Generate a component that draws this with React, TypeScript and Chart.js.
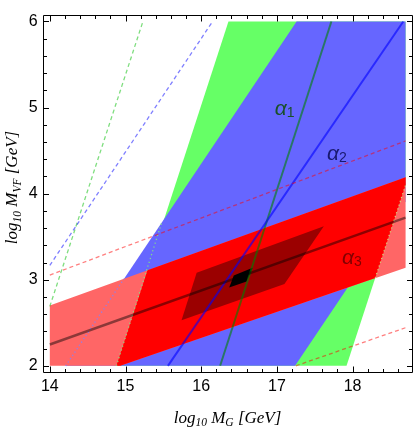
import React, { useEffect, useRef } from 'react';
import { Chart, registerables } from 'chart.js';

Chart.register(...registerables);

// axis ranges (Mathematica-style 2% padding around 14..18.7 / 2..6)
const X_MIN = 13.906;
const X_MAX = 18.794;
const Y_MIN = 1.92;
const Y_MAX = 6.08;

const xTickValues = [14, 15, 16, 17, 18];
const yTickValues = [2, 3, 4, 5, 6];

// regions (polygon vertices)
const greenX = [14.88, 17.92, 18.7, 18.7, 16.36];
const greenY = [2, 2, 4.1, 6, 6];
const blueX = [14.21, 17.24, 18.7, 18.7, 17.26];
const blueY = [2, 2, 3.91, 6, 6];
const pinkX = [14.0, 14.93, 18.7, 18.7, 14.0];
const pinkY = [2, 2, 3.14, 4.19, 2.7];
const redX = [14.88, 15.29, 18.7, 18.7, 18.3, 14.93];
const redY = [2, 3.11, 4.19, 4.1, 3.02, 2];
const darkRedX = [15.74, 15.94, 17.62, 17.1];
const darkRedY = [2.53, 3.08, 3.62, 2.95];
const blackX = [16.37, 16.43, 16.68, 16.6];
const blackY = [2.91, 3.05, 3.14, 2.98];

// central lines
const alpha1X = [16.25, 17.72];
const alpha1Y = [2, 6];
const alpha2X = [15.56, 18.67];
const alpha2Y = [2, 6];
const alpha3X = [14, 18.7];
const alpha3Y = [2.248, 3.722];

// dashed lines
const dashGreenX = [14, 15.23];
const dashGreenY = [2.69, 6];
const dashBlueX = [14, 16.15];
const dashBlueY = [3.167, 6];
const dashRed1X = [14, 18.7];
const dashRed1Y = [3.054, 4.612];
const dashRed2X = [17.25, 18.7];
const dashRed2Y = [2, 2.443];

// dotted region edges
const dotGreen1X = [14.88, 15.48];
const dotGreen1Y = [2, 3.67];
const dotBlueX = [14.21, 14.98];
const dotBlueY = [2, 3.01];
const dotGreen2X = [18.3, 18.7];
const dotGreen2Y = [3.02, 4.1];

// labels
const labelText = ['1', '2', '3'];
const labelX = [17.05, 17.74, 17.94];
const labelY = [4.98, 4.46, 3.25];
const labelColor = ['rgb(25,80,40)', 'rgb(25,25,110)', 'rgb(130,0,0)'];

const pts = (xs: number[], ys: number[]) => xs.map((x, i) => ({ x, y: ys[i] }));
const closed = (xs: number[], ys: number[]) => {
  const p = pts(xs, ys);
  return [...p, p[0]];
};

type Run = { t: string; s: number; dy?: number };

function drawRuns(ctx: CanvasRenderingContext2D, runs: Run[], cx: number, baseY: number) {
  const fam = '"Liberation Serif", "DejaVu Serif", serif';
  let total = 0;
  for (const r of runs) {
    ctx.font = `italic ${r.s}px ${fam}`;
    total += ctx.measureText(r.t).width;
  }
  let x = cx - total / 2;
  ctx.textAlign = 'left';
  ctx.textBaseline = 'alphabetic';
  for (const r of runs) {
    ctx.font = `italic ${r.s}px ${fam}`;
    ctx.fillText(r.t, x, baseY + (r.dy || 0));
    x += ctx.measureText(r.t).width;
  }
}

const framePlugin = {
  id: 'framePlugin',
  afterDatasetsDraw(chart: any) {
    const ctx: CanvasRenderingContext2D = chart.ctx;
    const xs = chart.scales.x;
    const ys = chart.scales.y;
    ctx.save();
    for (let i = 0; i < labelText.length; i++) {
      const px = xs.getPixelForValue(labelX[i]);
      const py = ys.getPixelForValue(labelY[i]);
      ctx.fillStyle = labelColor[i];
      ctx.textBaseline = 'alphabetic';
      ctx.textAlign = 'center';
      ctx.font = 'italic 21px "Liberation Sans", Arial, sans-serif';
      const aw = ctx.measureText('α').width;
      ctx.fillText('α', px, py + 5.5);
      ctx.textAlign = 'left';
      ctx.font = '14px "Liberation Sans", Arial, sans-serif';
      ctx.fillText(labelText[i], px + aw / 2, py + 8);
    }
    ctx.restore();
  },
  afterDraw(chart: any) {
    const ctx: CanvasRenderingContext2D = chart.ctx;
    const a = chart.chartArea;
    const xs = chart.scales.x;
    const ys = chart.scales.y;
    ctx.save();
    ctx.strokeStyle = '#000';
    ctx.lineWidth = 1;
    const L = Math.round(a.left) + 0.5;
    const R = Math.round(a.right) - 0.5;
    const T = Math.round(a.top) + 0.5;
    const B = Math.round(a.bottom) - 0.5;
    ctx.beginPath();
    ctx.rect(L, T, R - L, B - T);
    ctx.stroke();
    ctx.beginPath();
    for (let v = 14; v <= 18.75; v += 0.2) {
      const vv = Math.round(v * 10) / 10;
      const major = Math.abs(vv - Math.round(vv)) < 1e-6;
      const len = major ? 6 : 3.5;
      const px = Math.round(xs.getPixelForValue(vv)) + 0.5;
      ctx.moveTo(px, B);
      ctx.lineTo(px, B - len);
      ctx.moveTo(px, T);
      ctx.lineTo(px, T + len);
    }
    for (let v = 2; v <= 6.01; v += 0.2) {
      const vv = Math.round(v * 10) / 10;
      const major = Math.abs(vv - Math.round(vv)) < 1e-6;
      const len = major ? 5.5 : 3.5;
      const py = Math.round(ys.getPixelForValue(vv)) + 0.5;
      ctx.moveTo(L, py);
      ctx.lineTo(L + len, py);
      ctx.moveTo(R, py);
      ctx.lineTo(R - len, py);
    }
    ctx.stroke();

    ctx.fillStyle = '#000';
    drawRuns(
      ctx,
      [
        { t: 'log', s: 17 },
        { t: '10', s: 11.5, dy: 3.5 },
        { t: ' M', s: 17 },
        { t: 'G', s: 11.5, dy: 3.5 },
        { t: ' [GeV]', s: 17 },
      ],
      227.5,
      422.5
    );
    ctx.save();
    ctx.translate(17, 187.5);
    ctx.rotate(-Math.PI / 2);
    drawRuns(
      ctx,
      [
        { t: 'log', s: 17 },
        { t: '10', s: 11.5, dy: 3.5 },
        { t: ' M', s: 17 },
        { t: 'VF', s: 11.5, dy: 3.5 },
        { t: ' [GeV]', s: 17 },
      ],
      0,
      0
    );
    ctx.restore();
    ctx.restore();
  },
};

export default function App() {
  const ref = useRef<HTMLCanvasElement | null>(null);
  useEffect(() => {
    if (!ref.current) return;
    const poly = (xs: number[], ys: number[], color: string, layer: number) => ({
      data: closed(xs, ys),
      showLine: true,
      fill: 'shape',
      backgroundColor: color,
      borderColor: color,
      borderWidth: 0,
      pointRadius: 0,
      tension: 0,
      order: 100 - layer,
    });
    const line = (xs: number[], ys: number[], color: string, width: number, dash: number[], layer: number) => ({
      data: pts(xs, ys),
      showLine: true,
      fill: false,
      borderColor: color,
      backgroundColor: color,
      borderWidth: width,
      borderDash: dash,
      pointRadius: 0,
      tension: 0,
      order: 100 - layer,
    });
    const datasets: any[] = [
      poly(greenX, greenY, 'rgb(102,255,102)', 0),
      poly(blueX, blueY, 'rgb(102,102,255)', 1),
      poly(pinkX, pinkY, 'rgb(255,102,102)', 2),
      poly(redX, redY, 'rgb(255,0,0)', 3),
      poly(darkRedX, darkRedY, 'rgb(155,0,0)', 4),
      poly(blackX, blackY, 'rgb(0,0,0)', 5),
      line(dotGreen1X, dotGreen1Y, 'rgba(130,230,130,0.9)', 1.3, [1.2, 2.8], 6),
      line(dotBlueX, dotBlueY, 'rgba(130,130,255,0.9)', 1.3, [1.2, 2.8], 7),
      line(dotGreen2X, dotGreen2Y, 'rgba(200,230,130,0.9)', 1.3, [1.2, 2.8], 8),
      line(alpha1X, alpha1Y, 'rgba(0,128,0,0.6)', 2, [], 9),
      line(alpha2X, alpha2Y, 'rgba(0,0,255,0.6)', 2, [], 10),
      line(alpha3X, alpha3Y, 'rgba(0,0,0,0.45)', 2.5, [], 11),
      line(dashGreenX, dashGreenY, 'rgba(0,190,0,0.5)', 1.3, [4, 3], 12),
      line(dashBlueX, dashBlueY, 'rgba(0,0,255,0.5)', 1.3, [4, 3], 13),
      line(dashRed1X, dashRed1Y, 'rgba(255,0,0,0.5)', 1.3, [4, 3], 14),
      line(dashRed2X, dashRed2Y, 'rgba(255,0,0,0.5)', 1.3, [4, 3], 15),
    ];
    const chart = new Chart(ref.current, {
      type: 'scatter',
      data: { datasets },
      plugins: [framePlugin],
      options: {
        animation: false,
        responsive: false,
        devicePixelRatio: 1,
        layout: { padding: { left: 0, right: 2.3, top: 2.5, bottom: 0 } },
        plugins: { legend: { display: false }, tooltip: { enabled: false } },
        scales: {
          x: {
            type: 'linear',
            min: X_MIN,
            max: X_MAX,
            position: 'bottom',
            grid: { display: false, drawTicks: false, tickLength: 0 },
            border: { display: false },
            ticks: {
              color: '#000',
              padding: 4,
              font: { family: '"Liberation Sans", Arial, sans-serif', size: 16 },
              maxRotation: 0,
              autoSkip: false,
              callback: (v: any) => String(v),
            },
            afterBuildTicks: (s: any) => {
              s.ticks = xTickValues.map((v) => ({ value: v }));
            },
            afterFit: (s: any) => {
              s.height = 54.3;
            },
          },
          y: {
            type: 'linear',
            min: Y_MIN,
            max: Y_MAX,
            grid: { display: false, drawTicks: false, tickLength: 0 },
            border: { display: false },
            ticks: {
              color: '#000',
              padding: 5,
              font: { family: '"Liberation Sans", Arial, sans-serif', size: 16 },
              autoSkip: false,
              callback: (v: any) => String(v),
            },
            afterBuildTicks: (s: any) => {
              s.ticks = yTickValues.map((v) => ({ value: v }));
            },
            afterFit: (s: any) => {
              s.width = 42.7;
            },
          },
        },
      } as any,
    });
    return () => chart.destroy();
  }, []);
  return (
    <div style={{ position: 'absolute', left: 0, top: 0, width: 415, height: 427, background: '#fff' }}>
      <canvas ref={ref} width={415} height={427} style={{ width: 415, height: 427, display: 'block' }} />
    </div>
  );
}
